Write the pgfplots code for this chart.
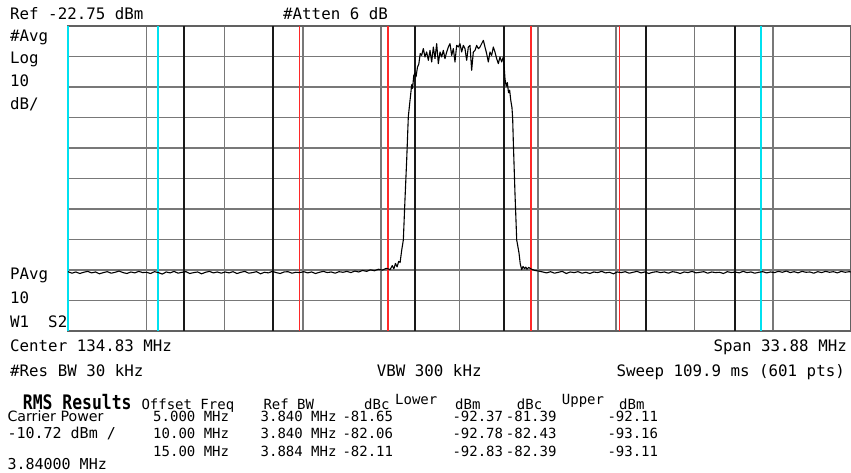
\documentclass[border=0pt]{standalone}
\usepackage{graphicx}
\usepackage{pgfplots}
\pgfplotsset{compat=1.18}
\usepackage{fontspec}
\setmainfont{DejaVu Sans}
\newfontfamily\hp{DejaVu Sans Mono}
\newfontfamily\tb{DejaVu Sans}
\newcommand\lab{\hp\fontsize{15.8}{18}\selectfont}
\newcommand\tab{\hp\fontsize{14}{16}\selectfont}
\definecolor{gridgray}{RGB}{120,120,120}
\definecolor{bandred}{RGB}{255,40,40}
\definecolor{bandcyan}{RGB}{0,225,240}
\definecolor{bandblack}{RGB}{25,25,25}
\begin{document}
\begin{tikzpicture}[x=1pt,y=1pt]
\path (0,0) rectangle (851,473);
\begin{pgfinterruptboundingbox}
\begin{axis}[
  at={(68pt,142pt)}, anchor=south west,
  width=783pt, height=305pt, scale only axis,
  xmin=117.89, xmax=151.77, ymin=-122.75, ymax=-22.75,
  xtick={121.278,124.666,128.054,131.442,134.83,138.218,141.606,144.994,148.382},
  ytick={-32.75,-42.75,-52.75,-62.75,-72.75,-82.75,-92.75,-102.75,-112.75},
  xticklabels={}, yticklabels={}, major tick length=0pt,
  grid=major, major grid style={draw=gridgray, line width=1.6pt},
  axis line style={draw=black!62, line width=1.8pt},
  clip=false,
]
% carrier band edges (black)
\addplot[bandblack, line width=1.8pt] coordinates {(132.91,-122.75) (132.91,-22.75)};
\addplot[bandblack, line width=1.8pt] coordinates {(136.75,-122.75) (136.75,-22.75)};
% 10 MHz offset bands (black)
\addplot[bandblack, line width=1.8pt] coordinates {(122.91,-122.75) (122.91,-22.75)};
\addplot[bandblack, line width=1.8pt] coordinates {(126.75,-122.75) (126.75,-22.75)};
\addplot[bandblack, line width=1.8pt] coordinates {(142.91,-122.75) (142.91,-22.75)};
\addplot[bandblack, line width=1.8pt] coordinates {(146.75,-122.75) (146.75,-22.75)};
% 5 MHz offset bands (red)
\addplot[bandred, line width=1.8pt] coordinates {(127.91,-122.75) (127.91,-22.75)};
\addplot[bandred, line width=1.8pt] coordinates {(131.75,-122.75) (131.75,-22.75)};
\addplot[bandred, line width=1.8pt] coordinates {(137.91,-122.75) (137.91,-22.75)};
\addplot[bandred, line width=1.8pt] coordinates {(141.75,-122.75) (141.75,-22.75)};
% 15 MHz offset bands (cyan)
\addplot[bandcyan, line width=1.8pt] coordinates {(117.89,-122.75) (117.89,-22.75)};
\addplot[bandcyan, line width=1.8pt] coordinates {(121.772,-122.75) (121.772,-22.75)};
\addplot[bandcyan, line width=1.8pt] coordinates {(147.888,-122.75) (147.888,-22.75)};
% trace
\addplot[black, line width=1.1pt, line join=round] coordinates {
(117.89,-103.3) (118.06,-103.8) (118.23,-103.4) (118.40,-103.9) (118.57,-103.5) (118.74,-103.2) (118.91,-103.7) (119.08,-103.4) (119.25,-104.0) (119.42,-103.6) (119.59,-103.3) (119.76,-103.8) (119.93,-103.5) (120.10,-103.1) (120.27,-103.6) (120.44,-103.9) (120.61,-103.4) (120.78,-103.7) (120.95,-103.2) (121.12,-103.6)
(121.29,-103.5) (121.46,-103.9) (121.63,-103.3) (121.80,-103.6) (121.97,-104.1) (122.14,-103.4) (122.31,-103.7) (122.48,-103.2) (122.65,-103.8) (122.82,-103.5) (122.99,-103.3) (123.16,-103.9) (123.33,-103.6) (123.50,-103.4) (123.67,-104.0) (123.84,-103.5) (124.01,-103.2) (124.18,-103.7) (124.35,-103.4) (124.52,-103.8)
(124.69,-103.4) (124.86,-103.7) (125.03,-103.3) (125.20,-103.9) (125.37,-103.5) (125.54,-103.2) (125.71,-103.8) (125.88,-103.6) (126.05,-103.3) (126.22,-104.0) (126.39,-103.5) (126.56,-103.7) (126.73,-103.2) (126.90,-103.6) (127.07,-103.9) (127.24,-103.4) (127.41,-103.3) (127.58,-103.8) (127.75,-103.5) (127.92,-103.6)
(128.09,-103.3) (128.26,-103.7) (128.43,-103.4) (128.60,-103.9) (128.77,-103.5) (128.94,-103.2) (129.11,-103.6) (129.28,-103.4) (129.45,-103.8) (129.62,-103.3) (129.79,-103.5) (129.96,-103.2) (130.13,-103.6)
(130.30,-103.1) (130.47,-103.4) (130.64,-102.9) (130.81,-103.2) (130.98,-102.7) (131.15,-103.0) (131.32,-102.5) (131.49,-102.8) (131.66,-102.2) (131.83,-102.6)
(131.92,-101.3) (131.99,-102.4) (132.06,-100.6) (132.13,-101.7) (132.20,-99.9) (132.26,-100.3) (132.33,-96.2) (132.40,-92.9) (132.47,-79.8) (132.545,-66.7) (132.615,-52.5)
(132.67,-48.5) (132.72,-45.0) (132.76,-42.0) (132.80,-43.2) (132.85,-39.0) (132.90,-38.2) (132.95,-39.4) (133.01,-36.3) (133.07,-35.2) (133.13,-31.8)
(133.193,-32.37) (133.265,-30.18) (133.337,-32.91) (133.409,-31.27) (133.481,-34.00) (133.554,-30.73) (133.626,-34.55) (133.698,-29.64) (133.770,-33.46) (133.842,-28.54)
(133.914,-35.10) (133.986,-31.27) (134.058,-32.91) (134.130,-30.73) (134.202,-33.46) (134.275,-31.27) (134.347,-29.64) (134.419,-28.54) (134.491,-32.37) (134.563,-30.18)
(134.635,-34.55) (134.707,-29.09) (134.779,-29.64) (134.851,-28.54) (134.923,-31.27) (134.996,-29.09) (135.068,-30.18) (135.140,-34.00) (135.212,-29.64) (135.284,-29.09)
(135.356,-37.28) (135.428,-31.27) (135.500,-30.73) (135.572,-29.09) (135.644,-30.18) (135.717,-29.64) (135.789,-28.54) (135.861,-27.45) (135.933,-29.64) (136.005,-31.82)
(136.077,-34.55) (136.149,-31.27) (136.221,-32.37) (136.293,-29.64) (136.365,-31.27) (136.438,-33.46) (136.510,-35.10) (136.582,-32.91) (136.654,-34.55) (136.726,-32.91)
(136.76,-35.8) (136.80,-40.2) (136.85,-42.5) (136.90,-41.3) (136.95,-44.6) (137.00,-43.8) (137.05,-47.2) (137.10,-49.5) (137.13,-53.0) (137.16,-61.1) (137.23,-77.5) (137.305,-92.9) (137.35,-94.8) (137.405,-97.2) (137.46,-100.8) (137.52,-102.6)
(137.58,-101.6) (137.64,-102.3) (137.70,-101.8) (137.75,-102.5) (137.82,-101.9) (137.92,-102.4) (138.09,-102.9) (138.26,-103.1) (138.43,-103.4)
(138.60,-103.7) (138.77,-103.3) (138.94,-103.8) (139.11,-103.5) (139.28,-103.2) (139.45,-103.9) (139.62,-103.4) (139.79,-103.6) (139.96,-103.3) (140.13,-103.8)
(140.30,-103.5) (140.47,-103.9) (140.64,-103.4) (140.81,-103.6) (140.98,-103.2) (141.15,-103.7) (141.32,-103.5) (141.49,-104.0) (141.66,-103.4) (141.83,-103.6)
(142.00,-103.3) (142.17,-103.8) (142.34,-103.5) (142.51,-103.2) (142.68,-103.7) (142.85,-103.4) (143.02,-103.9) (143.19,-103.5) (143.36,-103.3) (143.53,-103.6)
(143.70,-103.4) (143.87,-103.8) (144.04,-103.3) (144.21,-103.5) (144.38,-103.9) (144.55,-103.4) (144.72,-103.6) (144.89,-103.2) (145.06,-103.7) (145.23,-103.5)
(145.40,-103.3) (145.57,-103.8) (145.74,-103.4) (145.91,-103.6) (146.08,-103.5) (146.25,-103.9) (146.42,-103.3) (146.59,-103.6) (146.76,-103.4) (146.93,-103.7)
(147.10,-103.2) (147.27,-103.6) (147.44,-103.4) (147.61,-103.8) (147.78,-103.5) (147.95,-103.3) (148.12,-103.7) (148.29,-103.4) (148.46,-103.6) (148.63,-103.2)
(148.80,-103.5) (148.97,-103.1) (149.14,-103.6) (149.31,-103.3) (149.48,-103.7) (149.65,-103.2) (149.82,-103.5) (149.99,-103.4) (150.16,-103.8) (150.33,-103.3)
(150.50,-103.6) (150.67,-103.2) (150.84,-103.5) (151.01,-103.3) (151.18,-103.7) (151.35,-103.2) (151.52,-103.5) (151.69,-103.3) (151.77,-103.4)
};
\end{axis}
\end{pgfinterruptboundingbox}
% top annotations
\node[anchor=base west, inner sep=0] at (10,453) {\lab Ref -22.75 dBm};
\node[anchor=base west, inner sep=0] at (283,453) {\lab \#Atten 6 dB};
\node[anchor=base west, inner sep=0] at (10,431.3) {\lab \#Avg};
\node[anchor=base west, inner sep=0] at (10,409.7) {\lab Log};
\node[anchor=base west, inner sep=0] at (10,386.3) {\lab 10};
\node[anchor=base west, inner sep=0] at (10,363) {\lab dB/};
\node[anchor=base west, inner sep=0] at (10,193) {\lab PAvg};
\node[anchor=base west, inner sep=0] at (10,169.7) {\lab 10};
\node[anchor=base west, inner sep=0] at (10,145.7) {\lab W1\ \ S2};
\node[anchor=base west, inner sep=0] at (10,121.3) {\lab Center 134.83 MHz};
\node[anchor=base east, inner sep=0] at (847,121.3) {\lab Span 33.88 MHz};
\node[anchor=base west, inner sep=0] at (10,96.3) {\lab \#Res BW 30 kHz};
\node[anchor=base west, inner sep=0] at (376.7,96.3) {\lab VBW 300 kHz};
\node[anchor=base east, inner sep=0] at (845,96.3) {\lab Sweep 109.9 ms (601 pts)};
% RMS results table
\node[anchor=base west, inner sep=0] at (22.7,63.5) {\scalebox{1}[1.22]{\hp\bfseries\fontsize{16.4}{18}\selectfont RMS Results}};
\node[anchor=base west, inner sep=0] at (141.3,63.5) {\tab Offset Freq};
\node[anchor=base west, inner sep=0] at (263.3,63.5) {\tab Ref BW};
\node[anchor=base west, inner sep=0] at (364,63.5) {\tab dBc};
\node[anchor=base west, inner sep=0] at (395,68.5) {\tab Lower};
\node[anchor=base west, inner sep=0] at (455,63.5) {\tab dBm};
\node[anchor=base west, inner sep=0] at (516.7,63.5) {\tab dBc};
\node[anchor=base west, inner sep=0] at (561.7,68.5) {\tab Upper};
\node[anchor=base west, inner sep=0] at (619,63.5) {\tab dBm};
\node[anchor=base west, inner sep=0] at (7.3,51.3) {\tb\fontsize{14.2}{16}\selectfont Carrier Power};
\node[anchor=base west, inner sep=0] at (7.3,34) {\hp\fontsize{15}{16}\selectfont -10.72 dBm /};
\node[anchor=base west, inner sep=0] at (7.3,3) {\hp\fontsize{15}{16}\selectfont 3.84000 MHz};
\node[anchor=base east, inner sep=0] at (229.3,51.3) {\tab 5.000 MHz};
\node[anchor=base east, inner sep=0] at (229.3,34) {\tab 10.00 MHz};
\node[anchor=base east, inner sep=0] at (229.3,16.3) {\tab 15.00 MHz};
\node[anchor=base east, inner sep=0] at (336.7,51.3) {\tab 3.840 MHz};
\node[anchor=base east, inner sep=0] at (336.7,34) {\tab 3.840 MHz};
\node[anchor=base east, inner sep=0] at (336.7,16.3) {\tab 3.884 MHz};
\node[anchor=base east, inner sep=0] at (393.3,51.3) {\tab -81.65};
\node[anchor=base east, inner sep=0] at (393.3,34) {\tab -82.06};
\node[anchor=base east, inner sep=0] at (393.3,16.3) {\tab -82.11};
\node[anchor=base east, inner sep=0] at (503.3,51.3) {\tab -92.37};
\node[anchor=base east, inner sep=0] at (503.3,34) {\tab -92.78};
\node[anchor=base east, inner sep=0] at (503.3,16.3) {\tab -92.83};
\node[anchor=base east, inner sep=0] at (556.7,51.3) {\tab -81.39};
\node[anchor=base east, inner sep=0] at (556.7,34) {\tab -82.43};
\node[anchor=base east, inner sep=0] at (556.7,16.3) {\tab -82.39};
\node[anchor=base east, inner sep=0] at (658.3,51.3) {\tab -92.11};
\node[anchor=base east, inner sep=0] at (658.3,34) {\tab -93.16};
\node[anchor=base east, inner sep=0] at (658.3,16.3) {\tab -93.11};
\end{tikzpicture}
\end{document}
